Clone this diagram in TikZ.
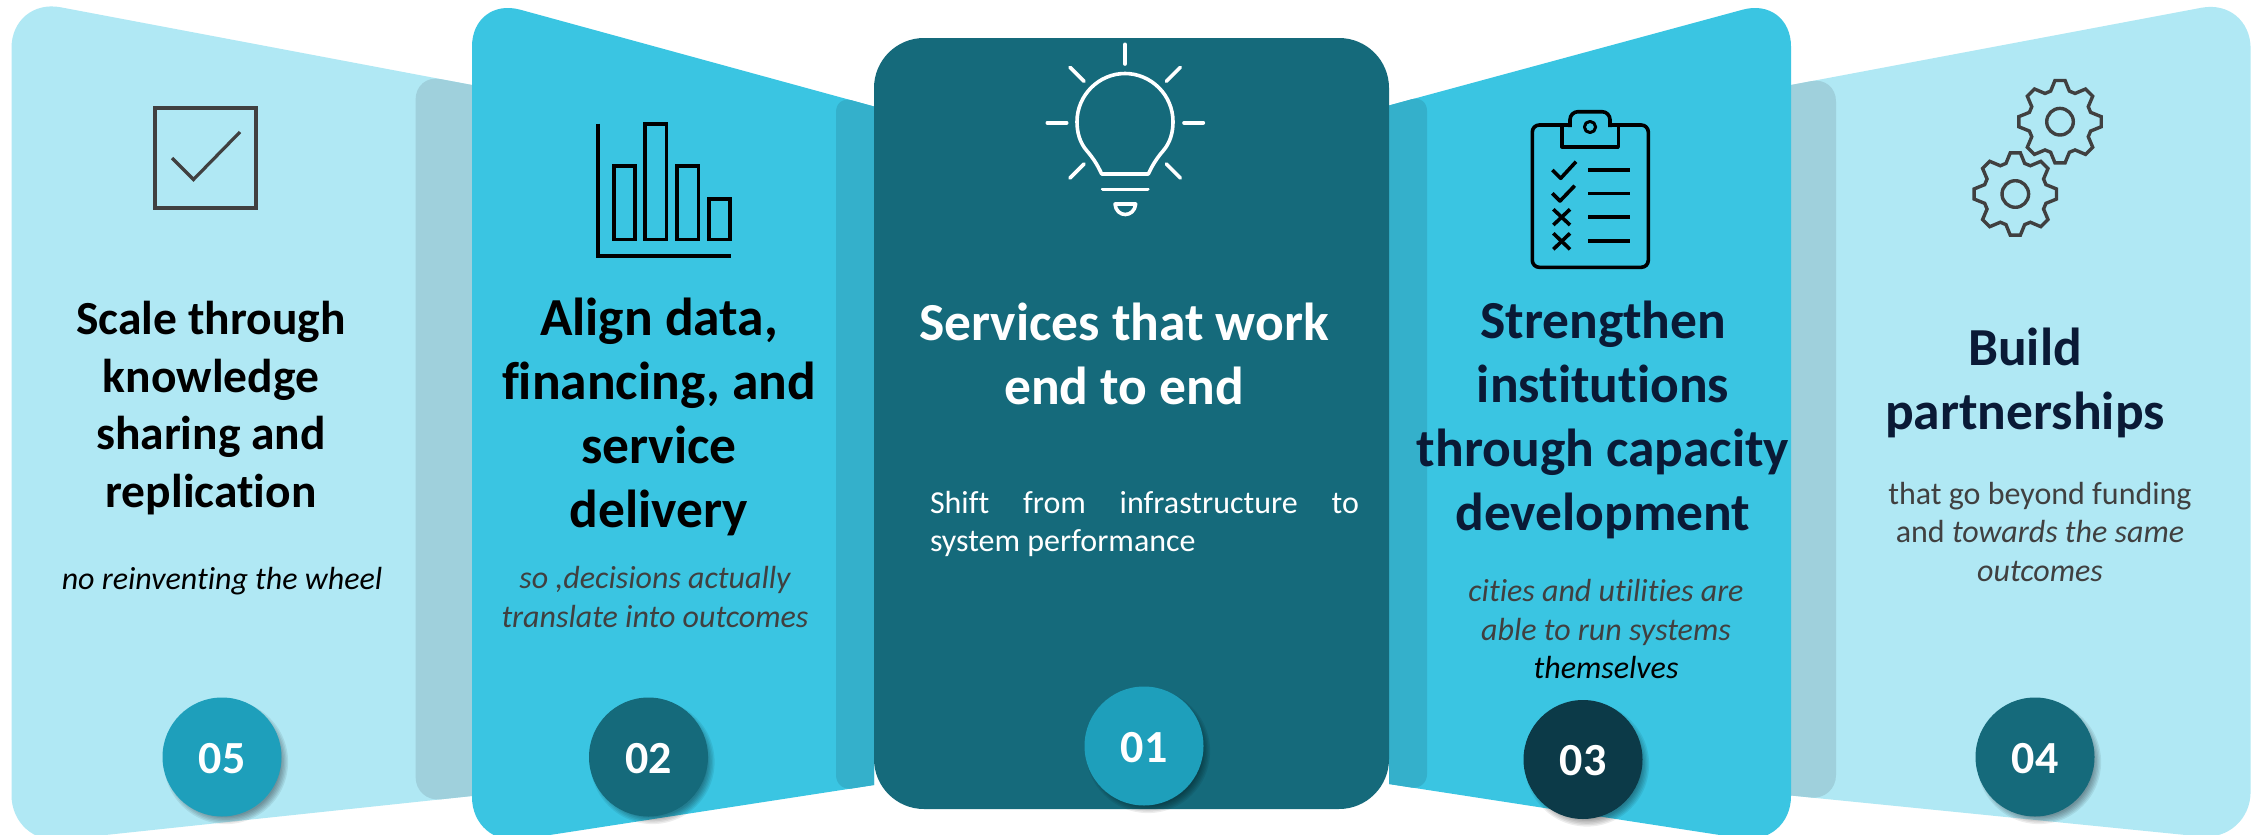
\documentclass[tikz,border=0pt]{standalone}
\usepackage{fontspec}
\setmainfont[Ligatures=NoCommon]{Carlito}
\definecolor{panlight}{HTML}{B0E8F4}
\definecolor{panmid}{HTML}{3AC5E2}
\definecolor{panside}{HTML}{9FD0DC}
\definecolor{panmidside}{HTML}{34B0CB}
\definecolor{pandark}{HTML}{156A7B}
\definecolor{badgeteal}{HTML}{1E9FBB}
\definecolor{badgedeep}{HTML}{0C3A48}
\definecolor{navytext}{HTML}{0A1A36}
\definecolor{greytext}{HTML}{404040}
\newcommand{\badge}[5]{%
  \foreach \k in {1,...,6}{
    \fill[black,opacity=0.07] (#2+4,#3+5) circle[radius={60.5-\k*1.4+3}];
  }
  \node[badgenode,fill=#4] (#1) at (#2,#3) {};
  \node[badgetext] (#1t) at (#2,#3+16) {#5};
}
\newcommand{\gearshape}[2]{%
  \draw[iconline,greytext,line width=3.4pt,line join=miter]
    ([shift={(#1,#2)}] -17:32)
    \foreach \a in {0,45,...,315}{
      -- ([shift={(#1,#2)}] \a-17:32)
      -- ([shift={(#1,#2)}] \a-7:41.5)
      -- ([shift={(#1,#2)}] \a+7:41.5)
      -- ([shift={(#1,#2)}] \a+17:32)
    } -- cycle;
  \draw[iconline,greytext,line width=3.4pt] (#1,#2) circle[radius=13.3pt];
}
\tikzset{
  badgenode/.style={circle,minimum size=119pt,inner sep=0pt,draw=none},
  badgetext/.style={anchor=base,inner sep=0pt,text=white,font=\fontsize{46}{50}\selectfont\bfseries},
  headbig/.style={inner sep=0pt,align=center,font=\fontsize{53.5}{64}\selectfont\bfseries},
  headsmall/.style={inner sep=0pt,align=center,font=\fontsize{47.5}{57.5}\selectfont\bfseries},
  bodytext/.style={inner sep=0pt,align=center,font=\fontsize{32}{38.2}\selectfont},
  iconline/.style={line cap=round,line join=round,line width=3.6pt},
}
\begin{document}
\begin{tikzpicture}[x=1pt,y=-1pt]
\useasboundingbox (0,0) rectangle (2252,835);
\clip (0,0) rectangle (2252,835);
\fill[white] (0,0) rectangle (2252,835);
% outer panels
\fill[panlight] (11.5,-2) [sharp corners] -- (472,85) -- (472,796) [rounded corners=50pt] -- (11.5,845) -- cycle;
\fill[panlight] (2250.6,-1.5) [sharp corners] -- (1791,85) -- (1791,795.5) [rounded corners=50pt] -- (2250.6,841.5) -- cycle;
\fill[panside] (472,85) [rounded corners=25pt] -- (415.6,74.5) -- (415.6,802) [sharp corners] -- (472,796) -- cycle;
\fill[panside] (1791,85) [rounded corners=25pt] -- (1836,76.5) -- (1836,800) [sharp corners] -- (1791,795.5) -- cycle;
% middle panels
\fill[panmid] (472,-3.5) [sharp corners] -- (874,106.5) -- (874,785) [rounded corners=50pt] -- (472,847) -- cycle;
\fill[panmid] (1791,-3.4) [sharp corners] -- (1389,105.5) -- (1389,784) [rounded corners=50pt] -- (1791,846) -- cycle;
\fill[panmidside] (874,106.5) [rounded corners=16pt] -- (836,96) -- (836,791) [sharp corners] -- (874,785) -- cycle;
\fill[panmidside] (1389,105.5) [rounded corners=16pt] -- (1427,95) -- (1427,790) [sharp corners] -- (1389,784) -- cycle;
% centre panel
\fill[pandark,rounded corners=50pt] (874,38) rectangle (1389,809);
% checkbox icon
\draw[greytext,line width=4pt] (155,107.5) rectangle (256,207.6);
\draw[greytext,line width=3.2pt] (172,158) -- (193.5,179.5) -- (240,132);
% bar chart icon
\draw[black,line width=4pt] (598,123.5) -- (598,255.6) -- (731,255.6);
\draw[black,line width=3.6pt] (613.7,166) rectangle (635,239.6);
\draw[black,line width=3.6pt] (645,124) rectangle (666.5,239.6);
\draw[black,line width=3.6pt] (677,166) rectangle (698.6,239.6);
\draw[black,line width=3.6pt] (709,199) rectangle (730,239.6);
% bulb icon
\begin{scope}[white,iconline,line width=3.6pt]
\draw (1125,44.3) -- (1125,64);
\draw (1047.3,122.7) -- (1066.7,122.7);
\draw (1184,122.7) -- (1203.3,122.7);
\draw (1070,67.3) -- (1084,81.3);
\draw (1180.3,67.3) -- (1166.3,81.3);
\draw (1084,164) -- (1070,178);
\draw (1166.3,164) -- (1180.3,178);
\draw (1101.7,174) -- (1148.3,174)
  .. controls (1153,164) and (1157,158) .. (1163,151)
  .. controls (1170,143) and (1173,133) .. (1173,121.7)
  .. controls (1173,95) and (1151,73.5) .. (1125,73.5)
  .. controls (1099,73.5) and (1077,95) .. (1077,121.7)
  .. controls (1077,133) and (1080,143) .. (1087,151)
  .. controls (1093,158) and (1097,164) .. (1101.7,174) -- cycle;
\draw (1102.7,189.3) -- (1147.7,189.3);
\draw (1115,204) -- (1135.7,204) .. controls (1135,211) and (1130,214.5) .. (1125.3,214.5) .. controls (1120.5,214.5) and (1115.5,211) .. (1115,204) -- cycle;
\end{scope}
% clipboard icon
\begin{scope}[black,iconline,line cap=butt,line width=3.6pt]
\draw[rounded corners=7pt] (1570,125) -- (1532.3,125) -- (1532.3,267.3) -- (1648.3,267.3) -- (1648.3,125) -- (1610,125);
\draw[rounded corners=8pt] (1570,127) -- (1570,111.7) -- (1610,111.7) -- (1610,127);
\draw (1561.7,127) -- (1561.7,146.7) -- (1618.3,146.7) -- (1618.3,127);
\draw[line width=3pt] (1590,127) circle[radius=5.6pt];
\draw (1552.3,170) -- (1560.7,178.3) -- (1576,161.7);
\draw (1552.3,193.3) -- (1560,201) -- (1574.7,185.7);
\draw (1553.3,209.3) -- (1570,225);
\draw (1570,209.3) -- (1553.3,225);
\draw (1553.3,233.3) -- (1570,249.3);
\draw (1570,233.3) -- (1553.3,249.3);
\draw (1588.3,169.7) -- (1630,169.7);
\draw (1588.3,193.3) -- (1630,193.3);
\draw (1588.3,217) -- (1630,217);
\draw (1588.3,241) -- (1630,241);
\end{scope}
% gears icon
\gearshape{2060}{121.7}
\gearshape{2015.3}{194}
% headings
\node[headsmall,text=black] (h05) at (211,408) {Scale through\\knowledge\\sharing and\\replication};
\node[headbig,text=black] (h02) at (659,417) {Align data,\\financing, and\\service\\delivery};
\node[headbig,text=white] (h01) at (1124,354) {Services that work\\end to end};
\node[headbig,text=navytext] (h03) at (1603,420) {Strengthen\\institutions\\through capacity\\development};
\node[headbig,text=navytext] (h04) at (2025,383) {Build\\partnerships};
% body text
\node[bodytext,text=black] (b05) at (222,581) {\itshape no reinventing the wheel};
\node[bodytext,text=greytext] (b02) at (655,597) {\itshape so ,decisions actually\\\itshape translate into outcomes};
\node[bodytext,text=white,align=left] (b01) at (1144.5,524) {\makebox[429pt][s]{Shift from infrastructure to}\\system performance};
\node[bodytext,text=greytext] (b03) at (1606,629) {\itshape cities and utilities are\\\itshape able to run systems\\\itshape \textcolor{black}{themselves}};
\node[bodytext,text=greytext] (b04) at (2040,532) {that go beyond funding\\and \itshape towards the same\\\itshape outcomes};
% badges
\badge{n05}{222}{757}{badgeteal}{05}
\badge{n02}{648.5}{757}{pandark}{02}
\badge{n01}{1144}{746}{badgeteal}{01}
\badge{n03}{1583}{759.5}{badgedeep}{03}
\badge{n04}{2035}{757}{pandark}{04}
\end{tikzpicture}
\end{document}
